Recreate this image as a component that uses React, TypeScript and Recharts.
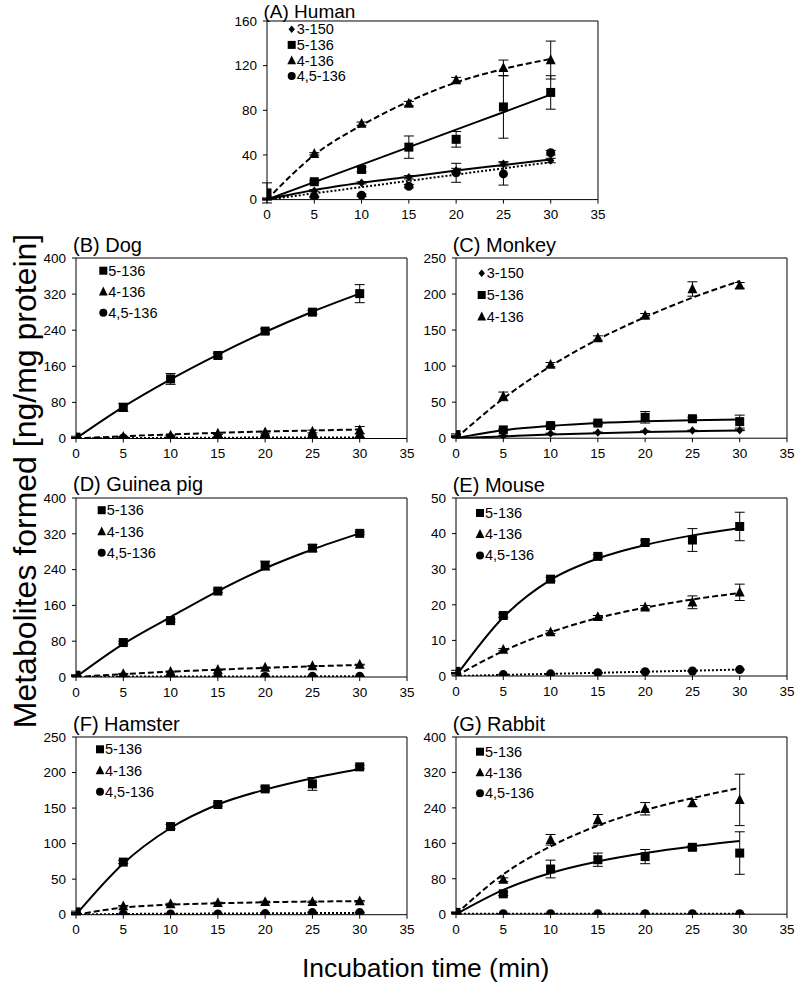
import React from "react";
import { ComposedChart, Line, XAxis, YAxis, ErrorBar, ReferenceLine } from "recharts";

const FONT = "'Liberation Sans', Arial, Helvetica, sans-serif";

// incubation times (min) and axis ticks
const TIME = [0, 5, 10, 15, 20, 25, 30];
const X_TICKS = [0, 5, 10, 15, 20, 25, 30, 35];

// (A) Human
const HUMAN_3_150 = [0, 8, 15, 20, 26, 32, 35];
const HUMAN_3_150_ERR = [0.5, 1, 1, 1.5, 2, 2, 2];
const HUMAN_3_150_FIT = [0, 8.5, 15, 20.5, 26, 31, 36];
const HUMAN_5_136 = [6, 16, 27, 47, 54, 83, 96];
const HUMAN_5_136_ERR = [9, 1, 2, 10, 7, 28, 15];
const HUMAN_5_136_FIT = [0, 15.7, 31.3, 47, 62.7, 78.3, 94];
const HUMAN_4_136 = [1, 41, 68, 86, 107, 118, 125];
const HUMAN_4_136_ERR = [0.5, 1, 1.5, 2, 2.5, 7, 17];
const HUMAN_4_136_FIT = [0, 40, 66.5, 88, 105, 117, 126];
const HUMAN_45_136 = [0, 2.5, 4, 12, 24, 23, 42];
const HUMAN_45_136_ERR = [0, 0.5, 1, 1.5, 8.5, 10, 2];
const HUMAN_45_136_FIT = [0, 5.6, 11.2, 16.8, 22.4, 28, 33.5];

// (B) Dog
const DOG_5_136 = [3, 69, 132, 184, 238, 280, 321];
const DOG_5_136_ERR = [2, 9, 12, 5, 5, 4, 20];
const DOG_5_136_FIT = [0, 70, 131, 186, 236, 281, 321];
const DOG_4_136 = [1, 3.7, 6.6, 11, 14, 15.5, 18.5];
const DOG_4_136_ERR = [0.5, 1, 1, 2, 2, 3, 8];
const DOG_4_136_FIT = [0, 5, 9, 12.5, 15.5, 17.7, 20];
const DOG_45_136 = [1, 1, 1.5, 1.5, 2, 2, 2];
const DOG_45_136_ERR = [0.5, 0.5, 0.5, 0.5, 0.5, 0.5, 0.5];
const DOG_45_136_FIT = [0, 1, 1.5, 1.8, 2, 2, 2];

// (C) Monkey
const MON_3_150 = [2, 3, 6.5, 8, 9.7, 10.6, 11];
const MON_3_150_ERR = [0.5, 0.5, 0.5, 0.5, 0.5, 0.5, 0.5];
const MON_3_150_FIT = [0, 2.5, 5, 7, 8.5, 9.7, 10.5];
const MON_5_136 = [5, 11.5, 17.5, 21, 29, 27, 23];
const MON_5_136_ERR = [1, 1, 2, 2, 8, 2, 9];
const MON_5_136_FIT = [0, 11, 17, 21, 23.5, 25, 26];
const MON_4_136 = [2, 58, 102, 139, 170, 207, 212];
const MON_4_136_ERR = [1, 6, 3, 3, 3, 10, 4];
const MON_4_136_FIT = [0, 55, 100, 137, 168, 195, 218];

// (D) Guinea pig
const GP_5_136 = [4, 77, 126, 192, 249, 288, 321];
const GP_5_136_ERR = [1, 3, 3, 3, 10, 8, 3];
const GP_5_136_FIT = [0, 74, 134, 192, 243, 285, 321];
const GP_4_136 = [2, 7, 12, 16, 21, 24.5, 27.5];
const GP_4_136_ERR = [0.5, 1, 1, 1, 1, 1, 1];
const GP_4_136_FIT = [0, 6.5, 12, 16.5, 20.5, 24, 27];
const GP_45_136 = [1, 1, 1, 1, 1, 1.5, 1.5];
const GP_45_136_ERR = [0.3, 0.3, 0.3, 0.3, 0.3, 0.3, 0.3];
const GP_45_136_FIT = [0, 0.8, 1, 1.2, 1.3, 1.4, 1.5];

// (E) Mouse
const MOU_5_136 = [1.3, 17, 27.2, 33.6, 37.5, 38.2, 42];
const MOU_5_136_ERR = [0.3, 0.5, 0.5, 0.5, 0.6, 3.2, 4];
const MOU_5_136_FIT = [0, 16.5, 27, 33, 36.8, 39.5, 41.5];
const MOU_4_136 = [0.5, 7.4, 12.3, 16.6, 19.3, 20.7, 23.5];
const MOU_4_136_ERR = [0.2, 0.3, 0.4, 0.4, 0.5, 1.8, 2.3];
const MOU_4_136_FIT = [0, 7, 12.3, 16.3, 19.2, 21.5, 23.3];
const MOU_45_136 = [0, 0.4, 0.6, 0.9, 1.2, 1.4, 1.8];
const MOU_45_136_ERR = [0, 0.1, 0.1, 0.1, 0.1, 0.1, 0.1];
const MOU_45_136_FIT = [0, 0.3, 0.6, 0.9, 1.2, 1.5, 1.8];

// (F) Hamster
const HAM_5_136 = [4, 74, 124, 155, 177, 184, 208];
const HAM_5_136_ERR = [1, 2, 3, 2, 3, 9, 2];
const HAM_5_136_FIT = [0, 72, 122, 155, 176, 192, 205];
const HAM_4_136 = [1, 12, 15, 16.5, 18, 18, 19];
const HAM_4_136_ERR = [0.5, 1, 1, 1, 1, 1, 1];
const HAM_4_136_FIT = [0, 10, 14, 16, 17.5, 18.5, 19];
const HAM_45_136 = [0, 1, 1, 1, 1.5, 3, 3];
const HAM_45_136_ERR = [0.3, 0.3, 0.3, 0.3, 0.3, 0.5, 0.5];
const HAM_45_136_FIT = [0, 1, 1.3, 1.6, 1.9, 2.2, 2.5];

// (G) Rabbit
const RAB_5_136 = [4, 46, 102, 123, 130, 151, 138];
const RAB_5_136_ERR = [1, 4, 20, 15, 16, 4, 48];
const RAB_5_136_FIT = [0, 55, 93, 119, 138, 153, 165];
const RAB_4_136 = [3, 78, 168, 213, 238, 251, 258];
const RAB_4_136_ERR = [1, 4, 12, 12, 14, 8, 58];
const RAB_4_136_FIT = [0, 90, 153, 200, 235, 262, 285];
const RAB_45_136 = [1, 1, 1, 1, 1, 1, 1];
const RAB_45_136_ERR = [0.3, 0.3, 0.3, 0.3, 0.3, 0.3, 0.3];
const RAB_45_136_FIT = [1, 1, 1, 1, 1, 1, 1];

type Kind = "diamond" | "square" | "triangle" | "circle";
type FitStyle = "solid" | "dashed" | "dotted";

interface Series {
  name: string;
  kind: Kind;
  values: number[];
  errors: number[];
  fit: number[];
  fitStyle: FitStyle;
}

interface Panel {
  title: string;
  titleY?: number;
  yMax: number;
  yTicks: number[];
  plot: { left: number; top: number; right: number; bottom: number };
  legend: { dx: number; dy: number; gap: number };
  series: Series[];
}

const s3150 = (values: number[], errors: number[], fit: number[]): Series => ({
  name: "3-150", kind: "diamond", values, errors, fit, fitStyle: "solid",
});
const s5136 = (values: number[], errors: number[], fit: number[]): Series => ({
  name: "5-136", kind: "square", values, errors, fit, fitStyle: "solid",
});
const s4136 = (values: number[], errors: number[], fit: number[]): Series => ({
  name: "4-136", kind: "triangle", values, errors, fit, fitStyle: "dashed",
});
const s45136 = (values: number[], errors: number[], fit: number[]): Series => ({
  name: "4,5-136", kind: "circle", values, errors, fit, fitStyle: "dotted",
});

const TICKS_160 = [0, 40, 80, 120, 160];
const TICKS_400 = [0, 80, 160, 240, 320, 400];
const TICKS_250 = [0, 50, 100, 150, 200, 250];
const TICKS_50 = [0, 10, 20, 30, 40, 50];

const PANELS: Panel[] = [
  {
    title: "(A) Human", titleY: 17.5, yMax: 160, yTicks: TICKS_160,
    plot: { left: 266.5, top: 20.7, right: 597.5, bottom: 199.3 },
    legend: { dx: 25.2, dy: 8.6, gap: 15.6 },
    series: [
      s3150(HUMAN_3_150, HUMAN_3_150_ERR, HUMAN_3_150_FIT),
      s5136(HUMAN_5_136, HUMAN_5_136_ERR, HUMAN_5_136_FIT),
      s4136(HUMAN_4_136, HUMAN_4_136_ERR, HUMAN_4_136_FIT),
      s45136(HUMAN_45_136, HUMAN_45_136_ERR, HUMAN_45_136_FIT),
    ],
  },
  {
    title: "(B) Dog", yMax: 400, yTicks: TICKS_400,
    plot: { left: 76, top: 258.3, right: 407, bottom: 438.8 },
    legend: { dx: 27.3, dy: 12.4, gap: 21 },
    series: [
      s5136(DOG_5_136, DOG_5_136_ERR, DOG_5_136_FIT),
      s4136(DOG_4_136, DOG_4_136_ERR, DOG_4_136_FIT),
      s45136(DOG_45_136, DOG_45_136_ERR, DOG_45_136_FIT),
    ],
  },
  {
    title: "(C) Monkey", yMax: 250, yTicks: TICKS_250,
    plot: { left: 455.7, top: 258.3, right: 786.7, bottom: 438.5 },
    legend: { dx: 26, dy: 15, gap: 21.7 },
    series: [
      s3150(MON_3_150, MON_3_150_ERR, MON_3_150_FIT),
      s5136(MON_5_136, MON_5_136_ERR, MON_5_136_FIT),
      s4136(MON_4_136, MON_4_136_ERR, MON_4_136_FIT),
    ],
  },
  {
    title: "(D) Guinea pig", yMax: 400, yTicks: TICKS_400,
    plot: { left: 76, top: 497.5, right: 407, bottom: 676.5 },
    legend: { dx: 25.7, dy: 12.7, gap: 21.3 },
    series: [
      s5136(GP_5_136, GP_5_136_ERR, GP_5_136_FIT),
      s4136(GP_4_136, GP_4_136_ERR, GP_4_136_FIT),
      s45136(GP_45_136, GP_45_136_ERR, GP_45_136_FIT),
    ],
  },
  {
    title: "(E) Mouse", yMax: 50, yTicks: TICKS_50,
    plot: { left: 455.7, top: 498, right: 786.7, bottom: 676 },
    legend: { dx: 24.3, dy: 15, gap: 21.2 },
    series: [
      s5136(MOU_5_136, MOU_5_136_ERR, MOU_5_136_FIT),
      s4136(MOU_4_136, MOU_4_136_ERR, MOU_4_136_FIT),
      s45136(MOU_45_136, MOU_45_136_ERR, MOU_45_136_FIT),
    ],
  },
  {
    title: "(F) Hamster", yMax: 250, yTicks: TICKS_250,
    plot: { left: 76, top: 737.3, right: 407, bottom: 915 },
    legend: { dx: 24, dy: 12, gap: 21.2 },
    series: [
      s5136(HAM_5_136, HAM_5_136_ERR, HAM_5_136_FIT),
      s4136(HAM_4_136, HAM_4_136_ERR, HAM_4_136_FIT),
      s45136(HAM_45_136, HAM_45_136_ERR, HAM_45_136_FIT),
    ],
  },
  {
    title: "(G) Rabbit", yMax: 400, yTicks: TICKS_400,
    plot: { left: 455.7, top: 737.3, right: 786.7, bottom: 914.5 },
    legend: { dx: 24.3, dy: 14.4, gap: 20.8 },
    series: [
      s5136(RAB_5_136, RAB_5_136_ERR, RAB_5_136_FIT),
      s4136(RAB_4_136, RAB_4_136_ERR, RAB_4_136_FIT),
      s45136(RAB_45_136, RAB_45_136_ERR, RAB_45_136_FIT),
    ],
  },
];

const DASH: Record<FitStyle, string | undefined> = {
  solid: undefined,
  dashed: "6 3",
  dotted: "2 2",
};

// chart frame around each plot area
const YW = 50;
const MT = 10;
const MR = 10;
const XH = 30;

function Marker({ cx, cy, kind, size = 9 }: { cx: number; cy: number; kind: Kind; size?: number }) {
  if (cx == null || cy == null || isNaN(cx) || isNaN(cy)) return null;
  const h = size / 2;
  if (kind === "square") {
    return <rect x={cx - h} y={cy - h} width={size} height={size} fill="#000" />;
  }
  if (kind === "circle") {
    return <circle cx={cx} cy={cy} r={h} fill="#000" />;
  }
  if (kind === "triangle") {
    const t = size * 1.1;
    return (
      <polygon
        points={`${cx},${cy - t * 0.58} ${cx + t / 2},${cy + t * 0.42} ${cx - t / 2},${cy + t * 0.42}`}
        fill="#000"
      />
    );
  }
  const d = h * 0.95;
  return (
    <polygon
      points={`${cx},${cy - d} ${cx + d * 0.85},${cy} ${cx},${cy + d} ${cx - d * 0.85},${cy}`}
      fill="#000"
    />
  );
}

function PanelChart({ panel }: { panel: Panel }) {
  const { plot, series } = panel;
  const rows = TIME.map((t, i) => {
    const row: Record<string, number> = { t };
    series.forEach((s, j) => {
      row[`v${j}`] = s.values[i];
      row[`e${j}`] = s.errors[i];
      row[`f${j}`] = s.fit[i];
    });
    return row;
  });
  const width = YW + (plot.right - plot.left) + MR;
  const height = MT + (plot.bottom - plot.top) + XH;
  const tick = { fill: "#000", fontSize: 13.5, fontFamily: FONT };

  return (
    <div style={{ position: "absolute", left: plot.left - YW, top: plot.top - MT }}>
      <ComposedChart
        width={width}
        height={height}
        data={rows}
        margin={{ top: MT, right: MR, left: 0, bottom: 0 }}
      >
        <XAxis
          dataKey="t"
          type="number"
          domain={[0, 35]}
          ticks={X_TICKS}
          interval={0}
          height={XH}
          tickSize={4}
          tickMargin={6}
          stroke="#000"
          tick={tick}
          allowDataOverflow
        />
        <YAxis
          type="number"
          domain={[0, panel.yMax]}
          ticks={panel.yTicks}
          interval={0}
          width={YW}
          tickSize={4}
          tickMargin={6}
          stroke="#000"
          tick={tick}
          allowDataOverflow
        />
        <ReferenceLine y={panel.yMax} stroke="#000" strokeWidth={1} />
        <ReferenceLine x={35} stroke="#000" strokeWidth={1} />
        {series.map((s, j) => (
          <Line
            key={`fit-${j}`}
            dataKey={`f${j}`}
            type="monotone"
            stroke="#000"
            strokeWidth={2}
            strokeDasharray={DASH[s.fitStyle]}
            dot={false}
            activeDot={false}
            isAnimationActive={false}
          />
        ))}
        {series.map((s, j) => (
          <Line
            key={`pts-${j}`}
            dataKey={`v${j}`}
            stroke="none"
            activeDot={false}
            isAnimationActive={false}
            dot={(p: any) => (
              <Marker key={`m-${j}-${p.index}`} cx={p.cx} cy={p.cy} kind={s.kind} />
            )}
          >
            <ErrorBar dataKey={`e${j}`} width={5} stroke="#000" strokeWidth={1} />
          </Line>
        ))}
      </ComposedChart>
    </div>
  );
}

function Overlay() {
  return (
    <svg
      width={795}
      height={982}
      style={{ position: "absolute", left: 0, top: 0, pointerEvents: "none" }}
      fontFamily={FONT}
    >
      {PANELS.map((p) => (
        <g key={p.title}>
          <text
            x={p.plot.left - 3}
            y={p.titleY ?? p.plot.top - 6.5}
            fontSize={p.titleY ? 19 : 20}
            fill="#000"
          >
            {p.title}
          </text>
          {p.series.map((s, j) => {
            const mx = p.plot.left + p.legend.dx;
            const my = p.plot.top + p.legend.dy + j * p.legend.gap;
            return (
              <g key={s.name}>
                <Marker cx={mx} cy={my} kind={s.kind} size={8} />
                <text x={mx + 5} y={my + 5} fontSize={14.5} fill="#000">
                  {s.name}
                </text>
              </g>
            );
          })}
        </g>
      ))}
      <text x={302} y={977} fontSize={26.5} fill="#000">
        Incubation time (min)
      </text>
      <text
        x={0}
        y={0}
        fontSize={32}
        fill="#000"
        textAnchor="middle"
        transform="translate(36,481) rotate(-90)"
      >
        Metabolites formed [ng/mg protein]
      </text>
    </svg>
  );
}

export default function App() {
  return (
    <div
      style={{
        position: "absolute",
        left: 0,
        top: 0,
        width: 795,
        height: 982,
        background: "#fff",
        overflow: "hidden",
        fontFamily: FONT,
      }}
    >
      {PANELS.map((p) => (
        <PanelChart key={p.title} panel={p} />
      ))}
      <Overlay />
    </div>
  );
}
